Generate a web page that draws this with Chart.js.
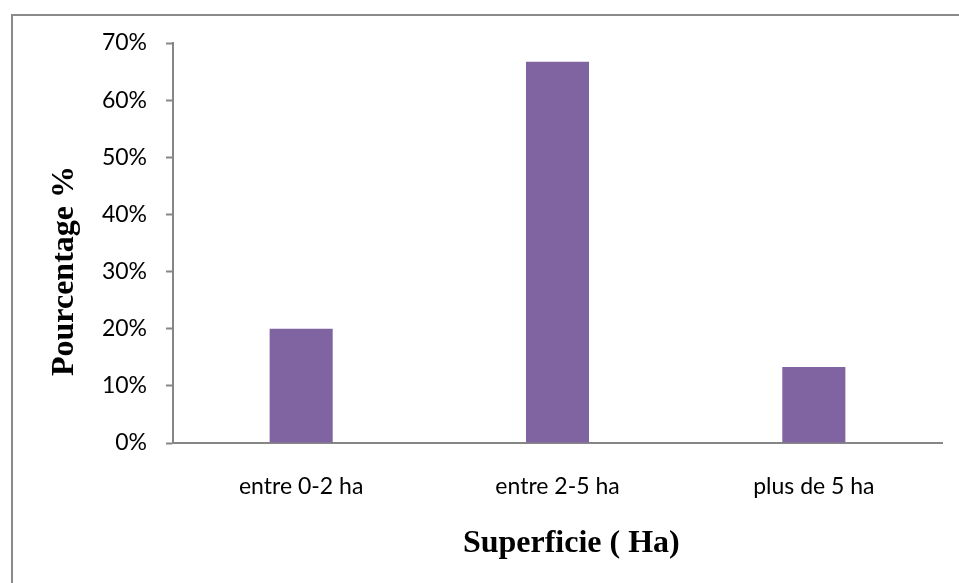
<!DOCTYPE html>
<html>
<head>
<meta charset="utf-8">
<script src="https://cdn.jsdelivr.net/npm/chart.js@4/dist/chart.umd.min.js"></script>
<style>
  html, body { margin: 0; padding: 0; background: #fff; overflow: hidden; }
  #frame {
    position: absolute; left: 11px; top: 14px; width: 1200px; height: 800px;
    border-top: 2px solid #8a8a8a; border-left: 2px solid #8a8a8a;
  }
  #wrap { position: absolute; left: 0; top: 0; width: 959px; height: 583px; }
</style>
</head>
<body>
<div id="frame"></div>
<div id="wrap"><canvas id="chart" width="959" height="583"></canvas></div>
<script>
// data
const categories = ["entre 0-2 ha", "entre 2-5 ha", "plus de 5 ha"];
const shares = [0.20, 0.667, 0.133];
const yTicks = [0, 0.1, 0.2, 0.3, 0.4, 0.5, 0.6, 0.7];

const xTitle = "Superficie ( Ha)";
const yTitle = "Pourcentage %";

const tickFont = { family: "Lato, 'Open Sans', sans-serif", size: 23 };
const titleFont = "bold 32px 'Liberation Serif', 'DejaVu Serif', serif";
const axisGray = "#868686";

// axis titles, placed like the original (not centred on the plot)
const axisTitles = {
  id: "axisTitles",
  afterDraw(chart) {
    const ctx = chart.ctx;
    const a = chart.chartArea;
    ctx.save();
    ctx.fillStyle = "#000";
    ctx.font = titleFont;
    ctx.textAlign = "center";
    ctx.textBaseline = "alphabetic";
    ctx.fillText(xTitle, a.left + (a.right - a.left) * 0.518, 552);
    ctx.translate(73, a.top + (a.bottom - a.top) * 0.57);
    ctx.rotate(-Math.PI / 2);
    ctx.fillText(yTitle, 0, 0);
    ctx.restore();
  }
};

new Chart(document.getElementById("chart").getContext("2d"), {
  type: "bar",
  data: {
    labels: categories,
    datasets: [{
      data: shares,
      backgroundColor: "#8064A2",
      borderWidth: 0,
      categoryPercentage: 1,
      barPercentage: 0.246
    }]
  },
  options: {
    responsive: false,
    animation: false,
    layout: { padding: { left: 0, right: 17, top: 43, bottom: 0 } },
    plugins: { legend: { display: false }, tooltip: { enabled: false } },
    scales: {
      x: {
        grid: { display: true, drawOnChartArea: false, drawTicks: false },
        border: { display: true, color: axisGray, width: 2 },
        ticks: { color: "#000", font: tickFont, padding: 30, maxRotation: 0 },
        afterFit: s => { s.height = 140; }
      },
      y: {
        min: 0,
        max: 0.7,
        afterBuildTicks: s => { s.ticks = yTicks.map(v => ({ value: v })); },
        grid: { display: true, drawOnChartArea: false, drawTicks: true, tickLength: 7, color: axisGray, tickWidth: 2 },
        border: { display: true, color: axisGray, width: 2 },
        ticks: {
          color: "#000", font: tickFont, padding: 19,
          callback: v => Math.round(v * 100) + "%"
        },
        afterFit: s => { s.width = 173; }
      }
    }
  },
  plugins: [axisTitles]
});
</script>
</body>
</html>
